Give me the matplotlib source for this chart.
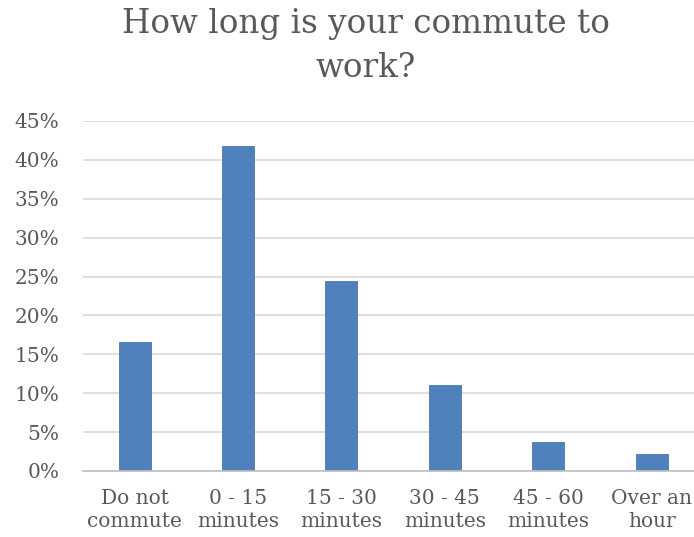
import matplotlib
matplotlib.use("Agg")
import matplotlib.pyplot as plt
from matplotlib.ticker import FuncFormatter

categories = ["Do not\ncommute", "0 - 15\nminutes", "15 - 30\nminutes", "30 - 45\nminutes", "45 - 60\nminutes", "Over an\nhour"]
values = [16.6, 41.8, 24.4, 11.1, 3.7, 2.2]
yticks = [0, 5, 10, 15, 20, 25, 30, 35, 40, 45]
title = "How long is your commute to\nwork?"

plt.rcParams['font.family'] = ['DejaVu Serif']
txt = "#595959"

fig = plt.figure(figsize=(6.94, 5.37), dpi=100)
ax = fig.add_axes([83/694, 66/537, 611/694, 350/537])
x = list(range(len(categories)))
ax.bar(x, values, width=0.31, color="#4f81bd", edgecolor="#4a76ad", linewidth=0.6, zorder=3)
ax.set_xlim(-0.5, 5.41)
ax.set_ylim(0, 45)
ax.set_yticks(yticks)
ax.yaxis.set_major_formatter(FuncFormatter(lambda v, p: f"{int(v)}%"))
ax.set_xticks(x)
ax.set_xticklabels(categories, fontsize=14.5, color=txt, linespacing=1.25)
ax.tick_params(axis='y', labelsize=14.5, labelcolor=txt, length=0, pad=17)
ax.tick_params(axis='x', length=0, pad=13)
ax.grid(axis='y', color="#d9d9d9", linewidth=1.2, zorder=0)
for s in ['top', 'right', 'left']:
    ax.spines[s].set_visible(False)
ax.spines['bottom'].set_color("#bfbfbf")
ax.spines['bottom'].set_linewidth(1.2)
ax.spines['bottom'].set_zorder(4)
fig.text(366/694, 1 - 46/537, title, ha='center', va='center', fontsize=23.5, color=txt, linespacing=1.45)
fig.savefig("out.png", dpi=100)
